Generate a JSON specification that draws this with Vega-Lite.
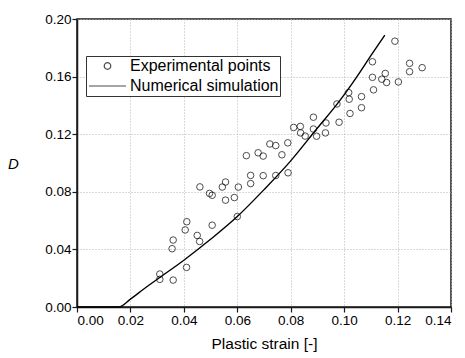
{
  "$schema": "https://vega.github.io/schema/vega-lite/v6.json",
  "width": 374,
  "height": 288,
  "autosize": {"type": "none"},
  "padding": {"left": 77, "top": 19, "right": 14, "bottom": 51},
  "background": "white",
  "config": {
    "font": "Liberation Sans",
    "view": {"stroke": "#1a1a1a", "strokeWidth": 1.5},
    "axis": {
      "domainColor": "#1a1a1a",
      "domainWidth": 1.5,
      "tickColor": "#1a1a1a",
      "tickWidth": 1.2,
      "tickSize": 5,
      "labelColor": "black",
      "labelFontSize": 13.5,
      "labelFont": "Liberation Sans",
      "titleFont": "Liberation Sans",
      "titleColor": "black",
      "titleFontWeight": "normal",
      "gridColor": "#b4b4b4",
      "gridDash": [1, 2],
      "gridWidth": 1
    }
  },
  "datasets": {
    "points": [
      {"strain": 0.031, "D": 0.0229, "series": "Experimental points"},
      {"strain": 0.031, "D": 0.0192, "series": "Experimental points"},
      {"strain": 0.036, "D": 0.0187, "series": "Experimental points"},
      {"strain": 0.0356, "D": 0.0405, "series": "Experimental points"},
      {"strain": 0.036, "D": 0.0465, "series": "Experimental points"},
      {"strain": 0.041, "D": 0.0275, "series": "Experimental points"},
      {"strain": 0.0405, "D": 0.0535, "series": "Experimental points"},
      {"strain": 0.0411, "D": 0.0592, "series": "Experimental points"},
      {"strain": 0.045, "D": 0.0497, "series": "Experimental points"},
      {"strain": 0.0459, "D": 0.0455, "series": "Experimental points"},
      {"strain": 0.0506, "D": 0.0568, "series": "Experimental points"},
      {"strain": 0.06, "D": 0.0628, "series": "Experimental points"},
      {"strain": 0.046, "D": 0.0834, "series": "Experimental points"},
      {"strain": 0.0496, "D": 0.0789, "series": "Experimental points"},
      {"strain": 0.0506, "D": 0.0776, "series": "Experimental points"},
      {"strain": 0.0544, "D": 0.0833, "series": "Experimental points"},
      {"strain": 0.0556, "D": 0.0868, "series": "Experimental points"},
      {"strain": 0.0556, "D": 0.0742, "series": "Experimental points"},
      {"strain": 0.0589, "D": 0.076, "series": "Experimental points"},
      {"strain": 0.0604, "D": 0.0833, "series": "Experimental points"},
      {"strain": 0.0634, "D": 0.1051, "series": "Experimental points"},
      {"strain": 0.065, "D": 0.0914, "series": "Experimental points"},
      {"strain": 0.065, "D": 0.0857, "series": "Experimental points"},
      {"strain": 0.0678, "D": 0.1071, "series": "Experimental points"},
      {"strain": 0.0697, "D": 0.1048, "series": "Experimental points"},
      {"strain": 0.0697, "D": 0.0912, "series": "Experimental points"},
      {"strain": 0.0722, "D": 0.1132, "series": "Experimental points"},
      {"strain": 0.0744, "D": 0.1121, "series": "Experimental points"},
      {"strain": 0.0744, "D": 0.0913, "series": "Experimental points"},
      {"strain": 0.0767, "D": 0.1057, "series": "Experimental points"},
      {"strain": 0.0789, "D": 0.114, "series": "Experimental points"},
      {"strain": 0.079, "D": 0.0932, "series": "Experimental points"},
      {"strain": 0.0811, "D": 0.1247, "series": "Experimental points"},
      {"strain": 0.0836, "D": 0.1254, "series": "Experimental points"},
      {"strain": 0.0837, "D": 0.1209, "series": "Experimental points"},
      {"strain": 0.0854, "D": 0.1187, "series": "Experimental points"},
      {"strain": 0.0885, "D": 0.1318, "series": "Experimental points"},
      {"strain": 0.0885, "D": 0.1236, "series": "Experimental points"},
      {"strain": 0.0897, "D": 0.1186, "series": "Experimental points"},
      {"strain": 0.0932, "D": 0.1278, "series": "Experimental points"},
      {"strain": 0.093, "D": 0.1209, "series": "Experimental points"},
      {"strain": 0.0981, "D": 0.1283, "series": "Experimental points"},
      {"strain": 0.0973, "D": 0.141, "series": "Experimental points"},
      {"strain": 0.1017, "D": 0.1489, "series": "Experimental points"},
      {"strain": 0.1019, "D": 0.1443, "series": "Experimental points"},
      {"strain": 0.1022, "D": 0.1344, "series": "Experimental points"},
      {"strain": 0.1065, "D": 0.1461, "series": "Experimental points"},
      {"strain": 0.1065, "D": 0.1384, "series": "Experimental points"},
      {"strain": 0.1106, "D": 0.1703, "series": "Experimental points"},
      {"strain": 0.1106, "D": 0.1595, "series": "Experimental points"},
      {"strain": 0.111, "D": 0.1508, "series": "Experimental points"},
      {"strain": 0.1154, "D": 0.1622, "series": "Experimental points"},
      {"strain": 0.1141, "D": 0.1582, "series": "Experimental points"},
      {"strain": 0.1159, "D": 0.1559, "series": "Experimental points"},
      {"strain": 0.1203, "D": 0.1563, "series": "Experimental points"},
      {"strain": 0.119, "D": 0.1846, "series": "Experimental points"},
      {"strain": 0.1245, "D": 0.1692, "series": "Experimental points"},
      {"strain": 0.1245, "D": 0.1634, "series": "Experimental points"},
      {"strain": 0.1292, "D": 0.1662, "series": "Experimental points"}
    ],
    "curve": [
      {"strain": 0, "D": 0},
      {"strain": 0.0156, "D": 0},
      {"strain": 0.02, "D": 0.0055},
      {"strain": 0.025, "D": 0.0125},
      {"strain": 0.031, "D": 0.0205},
      {"strain": 0.04, "D": 0.0325},
      {"strain": 0.05, "D": 0.047},
      {"strain": 0.06, "D": 0.0628},
      {"strain": 0.07, "D": 0.0815},
      {"strain": 0.08, "D": 0.1015},
      {"strain": 0.09, "D": 0.1243},
      {"strain": 0.0975, "D": 0.1412},
      {"strain": 0.105, "D": 0.1605},
      {"strain": 0.11, "D": 0.1745},
      {"strain": 0.1152, "D": 0.1888}
    ]
  },
  "layer": [
    {
      "data": {"name": "curve"},
      "mark": {"type": "line", "color": "black", "strokeWidth": 1.4, "interpolate": "monotone"},
      "encoding": {
        "x": {
          "field": "strain", "type": "quantitative",
          "scale": {"domain": [0, 0.14], "nice": false, "zero": false},
          "axis": {
            "values": [0, 0.02, 0.04, 0.06, 0.08, 0.1, 0.12, 0.14],
            "format": ".2f",
            "labelPadding": 1,
            "title": "Plastic strain [-]",
            "titleFontSize": 15.5,
            "titlePadding": 10
          }
        },
        "y": {
          "field": "D", "type": "quantitative",
          "scale": {"domain": [0, 0.2], "nice": false},
          "axis": {
            "values": [0, 0.02, 0.04, 0.06, 0.08, 0.1, 0.12, 0.14, 0.16, 0.18, 0.2],
            "format": ".2f",
            "labelPadding": 1,
            "title": "D",
            "titleFontStyle": "italic",
            "titleFontSize": 15,
            "titleAngle": 0,
            "titleX": -64,
            "titleY": 144,
            "titleAlign": "center",
            "titleBaseline": "middle"
          }
        }
      }
    },
    {
      "data": {"name": "points"},
      "mark": {"type": "point", "filled": false, "color": "black", "strokeWidth": 1},
      "encoding": {
        "x": {"field": "strain", "type": "quantitative"},
        "y": {"field": "D", "type": "quantitative"},
        "shape": {
          "field": "series", "type": "nominal",
          "scale": {
            "domain": ["Experimental points", "Numerical simulation"],
            "range": ["circle", "stroke"]
          },
          "legend": {
            "title": null,
            "orient": "none",
            "legendX": 9,
            "legendY": 37,
            "direction": "vertical",
            "padding": 1,
            "strokeColor": "#333333",
            "fillColor": "white",
            "labelFontSize": 16,
            "labelFont": "Liberation Sans",
            "labelColor": "black",
            "labelLimit": 300,
            "symbolOffset": 1,
            "labelOffset": 3,
            "rowPadding": 2,
            "clipHeight": 18,
            "symbolStrokeWidth": 1.2
          }
        },
        "size": {
          "field": "series", "type": "nominal",
          "scale": {
            "domain": ["Experimental points", "Numerical simulation"],
            "range": [43, 1369]
          },
          "legend": {
            "title": null,
            "orient": "none",
            "legendX": 9,
            "legendY": 37,
            "direction": "vertical",
            "padding": 1,
            "strokeColor": "#333333",
            "fillColor": "white",
            "labelFontSize": 16,
            "labelFont": "Liberation Sans",
            "labelColor": "black",
            "labelLimit": 300,
            "symbolOffset": 1,
            "labelOffset": 3,
            "rowPadding": 2,
            "clipHeight": 18,
            "symbolStrokeWidth": 1.2
          }
        }
      }
    }
  ]
}
